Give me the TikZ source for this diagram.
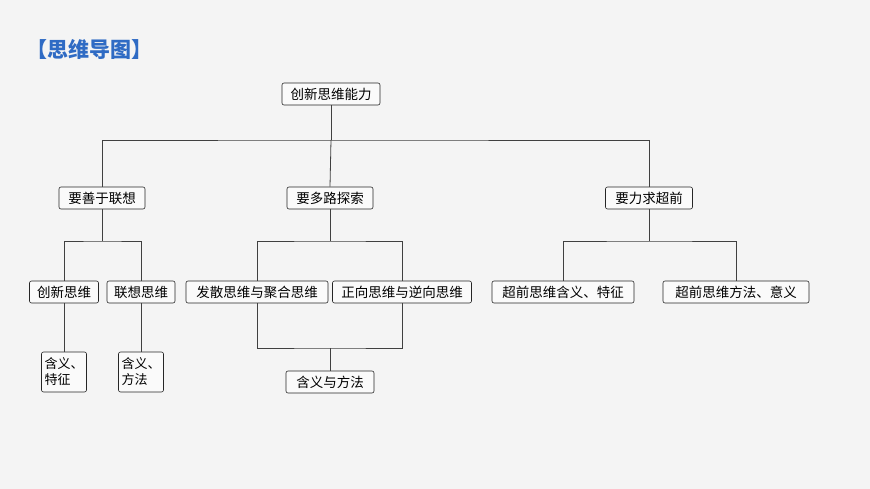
\documentclass[tikz,border=0pt]{standalone}
\usepackage{fontspec}
\setmainfont{Noto Sans CJK SC}
\definecolor{tblue}{HTML}{2F6BC4}
\begin{document}
\begin{tikzpicture}[x=1pt,y=-1pt,
 bx/.style={draw=black!85,fill=white!96!gray,rounded corners=2pt,inner sep=0pt,minimum height=22pt,font=\fontsize{13.5}{15.5}\selectfont,line width=0.6pt},
 ln/.style={draw=black!75,line width=0.8pt}]
\fill[gray!9] (0,0) rectangle (870,489);
\useasboundingbox (0,0) rectangle (870,489);
\node[text=tblue,font=\fontsize{21}{24}\bfseries\selectfont,anchor=west,inner sep=0pt] (t) at (26,49) {【思维导图】};
\node[bx,minimum width=98pt] (r) at (331,94) {创新思维能力};
\node[bx,minimum width=86pt] (a) at (102,198) {要善于联想};
\node[bx,minimum width=86pt] (b) at (330,198) {要多路探索};
\node[bx,minimum width=87pt] (c) at (649,198) {要力求超前};
\node[bx,minimum width=69pt] (a1) at (64,292) {创新思维};
\node[bx,minimum width=68pt] (a2) at (141,292) {联想思维};
\node[bx,minimum width=44pt,minimum height=40pt,align=left,inner xsep=3pt,font=\fontsize{13}{16}\selectfont] (a11) at (64,372) {含义、\\特征};
\node[bx,minimum width=44pt,minimum height=40pt,align=left,inner xsep=3pt,font=\fontsize{13}{16}\selectfont] (a21) at (141,372) {含义、\\方法};
\node[bx,minimum width=142pt] (b1) at (257,292) {发散思维与聚合思维};
\node[bx,minimum width=139pt] (b2) at (402,292) {正向思维与逆向思维};
\node[bx,minimum width=88pt] (b3) at (330,382) {含义与方法};
\node[bx,minimum width=142pt] (c1) at (563,292) {超前思维含义、特征};
\node[bx,minimum width=146pt] (c2) at (736,292) {超前思维方法、意义};
\coordinate (h) at (331,140);
\draw[ln] (r) -- (h);
\draw[ln] (a.north) |- (h) -| (c.north);
\draw[ln] (h) -- (b.north);
\draw[ln] (a1.north) |- (102,241) -| (a2.north);
\draw[ln] (a) -- (102,241);
\draw[ln] (a1) -- (a11); \draw[ln] (a2) -- (a21);
\draw[ln] (b1.north) |- (330,241) -| (b2.north);
\draw[ln] (b) -- (330,241);
\draw[ln] (b1.south) |- (330,348) -| (b2.south);
\draw[ln] (330,348) -- (b3);
\draw[ln] (c1.north) |- (649,241) -| (c2.north);
\draw[ln] (c) -- (649,241);
\end{tikzpicture}
\end{document}
